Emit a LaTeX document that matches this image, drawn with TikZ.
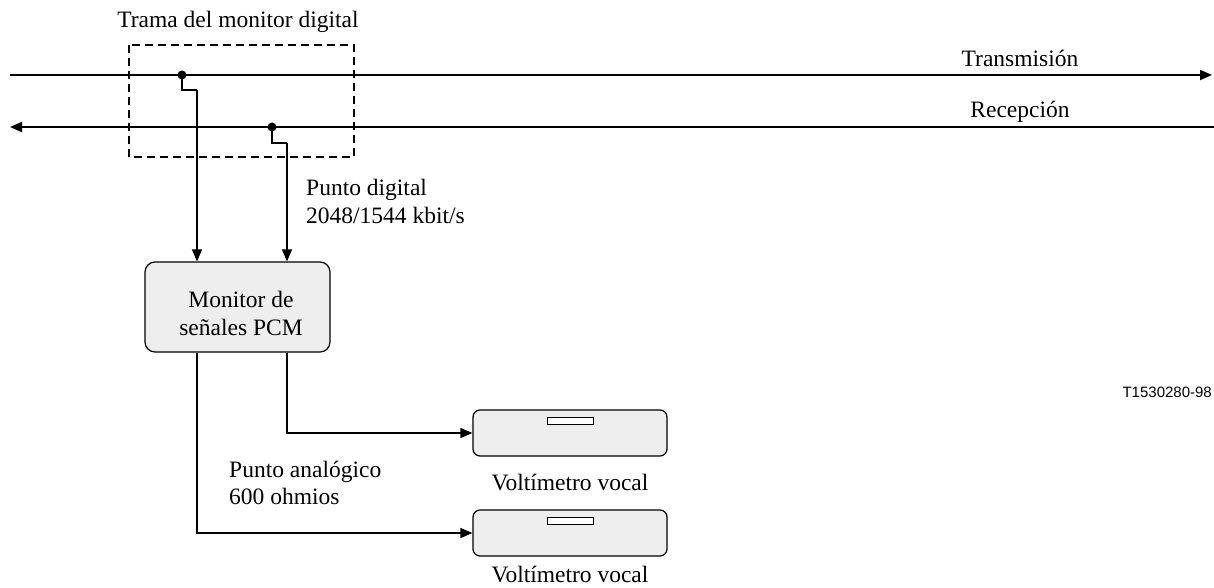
\documentclass[tikz,border=0pt]{standalone}
\usepackage{fontspec}
\setmainfont{Liberation Serif}
\newfontfamily\sansf{Liberation Sans}
\usetikzlibrary{arrows.meta}
\definecolor{boxfill}{HTML}{EEEEEE}
\begin{document}
\begin{tikzpicture}[x=1pt,y=-1pt,
  txt/.style={font=\fontsize{23.5}{27}\selectfont, inner sep=0pt},
  mainline/.style={line width=2pt},
  conn/.style={line width=1.2pt},
  tipa/.style={-{Triangle[length=12pt,width=10pt]}},
  tipb/.style={{Triangle[length=12pt,width=10pt]}-},
  frame/.style={draw, line width=1.8pt, dash pattern=on 8pt off 5pt},
  monbox/.style={draw, line width=1.2pt, rounded corners=10pt, fill=boxfill,
    minimum width=185pt, minimum height=90pt, inner sep=0pt},
  voltbox/.style={draw, line width=1.2pt, rounded corners=7pt, fill=boxfill,
    minimum width=194pt, minimum height=46pt, inner sep=0pt},
  dial/.style={draw, line width=1pt, fill=white, minimum width=46pt, minimum height=7pt, inner sep=0pt},
  dot/.style={circle, fill=black, inner sep=0pt, minimum size=9pt}
]
\useasboundingbox (0,0) rectangle (1214,588);

% main lines
\coordinate (tl) at (10,75);
\coordinate (tr) at (1212,75);
\coordinate (rl) at (10,127);
\coordinate (rr) at (1214,127);
\draw[mainline,tipa] (tl) -- (tr);
\draw[mainline,tipb] (rl) -- (rr);

% monitor frame
\draw[frame] (129,45) rectangle (354,157);
\node[txt, anchor=base] (framelbl) at (238,28) {Trama del monitor digital};
\node[txt, anchor=base] (tlbl) at (1020,67) {Transmisión};
\node[txt, anchor=base] (rlbl) at (1020,118) {Recepción};

% tap dots
\node[dot] (tdot) at (182,75) {};
\node[dot] (rdot) at (272,127) {};

% monitor
\node[monbox] (monitor) at (237.5,307) {};
\node[txt, anchor=base] (montxt1) at (241,307) {Monitor de};
\node[txt, anchor=base] (montxt2) at (241,335) {señales PCM};

% voltmeters
\node[voltbox] (volt1) at (570,433) {};
\node[voltbox] (volt2) at (570,533) {};
\node[dial, anchor=north] (dial1) at ([yshift=-8pt]volt1.north) {};
\node[dial, anchor=north] (dial2) at ([yshift=-8pt]volt2.north) {};
\node[txt, anchor=base] (v1lbl) at (570,490) {Voltímetro vocal};
\node[txt, anchor=base] (v2lbl) at (570,582) {Voltímetro vocal};

% connectors from taps
\coordinate (ta) at (182,90);
\coordinate (tb) at (197,90);
\coordinate (ra) at (272,143);
\coordinate (rb) at (287,143);
\draw[conn] (tdot.center) -- (ta) -- (tb);
\draw[conn,tipa] (tb) -- (tb |- monitor.north);
\draw[conn] (rdot.center) -- (ra) -- (rb);
\draw[conn,tipa] (rb) -- (rb |- monitor.north);

% connectors to voltmeters
\draw[conn,tipa] (tb |- monitor.south) |- (volt2.west);
\draw[conn,tipa] (rb |- monitor.south) |- (volt1.west);

% labels
\node[txt, anchor=base west] (dlbl) at (306,196) {Punto digital};
\node[txt, anchor=base west] (dlbl2) at (306,223) {2048/1544 kbit/s};
\node[txt, anchor=base west] (albl) at (229,477) {Punto analógico};
\node[txt, anchor=base west] (albl2) at (229,504) {600 ohmios};
\node[font=\sansf\fontsize{15}{18}\selectfont, inner sep=0pt, anchor=base east] (ref) at (1212,397) {T1530280-98};
\end{tikzpicture}
\end{document}
